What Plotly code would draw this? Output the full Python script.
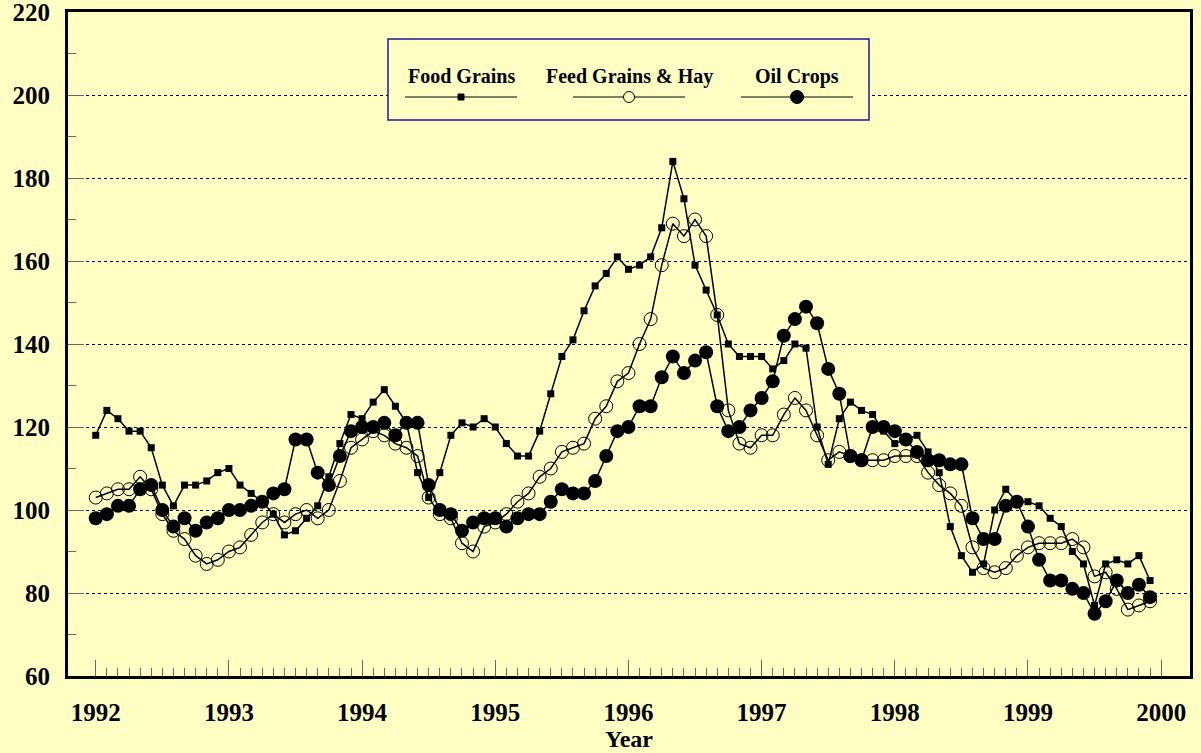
"""
Monthly price index chart: food grains, feed grains & hay, oil crops (1992-1999).
"""

import plotly.graph_objects as go

# Month index, 0 = Jan 1992 ... 95 = Dec 1999
months = list(range(96))

food_grains = [
    118, 124, 122, 119, 119, 115, 106, 101, 106, 106, 107, 109,
    110, 106, 104, 102, 99, 94, 95, 98, 101, 108, 116, 123,
    122, 126, 129, 125, 121, 109, 103, 109, 118, 121, 120, 122,
    120, 116, 113, 113, 119, 128, 137, 141, 148, 154, 157, 161,
    158, 159, 161, 168, 184, 175, 159, 153, 147, 140, 137, 137,
    137, 134, 136, 140, 139, 120, 111, 122, 126, 124, 123, 119,
    116, 117, 118, 114, 109, 96, 89, 85, 87, 100, 105, 102,
    102, 101, 98, 96, 90, 87, 77, 87, 88, 87, 89, 83,
]

feed_grains_hay = [
    103, 104, 105, 105, 108, 105, 99, 95, 93, 89, 87, 88,
    90, 91, 94, 97, 99, 97, 99, 100, 98, 100, 107, 115,
    117, 119, 118, 116, 115, 113, 103, 99, 98, 92, 90, 96,
    97, 99, 102, 104, 108, 110, 114, 115, 116, 122, 125, 131,
    133, 140, 146, 159, 169, 166, 170, 166, 147, 124, 116, 115,
    118, 118, 123, 127, 124, 118, 112, 114, 113, 112, 112, 112,
    113, 113, 113, 109, 106, 104, 101, 91, 86, 85, 86, 89,
    91, 92, 92, 92, 93, 91, 84, 85, 81, 76, 77, 78,
]

oil_crops = [
    98, 99, 101, 101, 105, 106, 100, 96, 98, 95, 97, 98,
    100, 100, 101, 102, 104, 105, 117, 117, 109, 106, 113, 119,
    120, 120, 121, 118, 121, 121, 106, 100, 99, 95, 97, 98,
    98, 96, 98, 99, 99, 102, 105, 104, 104, 107, 113, 119,
    120, 125, 125, 132, 137, 133, 136, 138, 125, 119, 120, 124,
    127, 131, 142, 146, 149, 145, 134, 128, 113, 112, 120, 120,
    119, 117, 114, 112, 112, 111, 111, 98, 93, 93, 101, 102,
    96, 88, 83, 83, 81, 80, 75, 78, 83, 80, 82, 79,
]

year_ticks = list(range(0, 97, 12))
year_labels = [str(1992 + k) for k in range(9)]
series_names = ["Food Grains", "Feed Grains & Hay", "Oil Crops"]

BG = "#FFFFC4"
FONT = "Liberation Serif"

# plot area in pixels (for placing the hand-made legend)
PL, PR, PT, PB = 68, 1190, 12, 676


def px_x(px):
    return (px - PL) / (PR - PL)


def px_y(py):
    return (PB - py) / (PB - PT)


fig = go.Figure()

fig.add_trace(
    go.Scatter(
        x=months, y=food_grains, mode="lines+markers", name=series_names[0],
        line=dict(color="black", width=1.5),
        marker=dict(symbol="square", size=7, color="black"),
    )
)
fig.add_trace(
    go.Scatter(
        x=months, y=feed_grains_hay, mode="lines+markers", name=series_names[1],
        line=dict(color="black", width=1.5),
        marker=dict(symbol="circle-open", size=13, color="black", line=dict(width=1)),
    )
)
fig.add_trace(
    go.Scatter(
        x=months, y=oil_crops, mode="lines+markers", name=series_names[2],
        line=dict(color="black", width=1.5),
        marker=dict(symbol="circle", size=14, color="black"),
    )
)

# Custom legend: boxed, label above the line sample
shapes = [
    dict(
        type="rect", xref="paper", yref="paper",
        x0=px_x(388), x1=px_x(869), y0=px_y(120), y1=px_y(39),
        line=dict(color="#1a1a8c", width=1.5), fillcolor=BG, layer="above",
    )
]
annotations = []
legend_centers = [461, 629, 797]
for k, cx in enumerate(legend_centers):
    shapes.append(
        dict(
            type="line", xref="paper", yref="paper",
            x0=px_x(cx - 56), x1=px_x(cx + 56), y0=px_y(97), y1=px_y(97),
            line=dict(color="black", width=1), layer="above",
        )
    )
    annotations.append(
        dict(
            x=px_x(cx), y=px_y(63), xref="paper", yref="paper",
            text=f"<b>{series_names[k]}</b>", showarrow=False,
            font=dict(family=FONT, size=20, color="black"),
        )
    )

marker_shapes = [("rect", 6, "black", "black"), ("circle", 11, BG, "black"), ("circle", 13, "black", "black")]
for (kind, sz, fill, edge), cx in zip(marker_shapes, legend_centers):
    shapes.append(
        dict(
            type=kind, xref="paper", yref="paper",
            xsizemode="pixel", ysizemode="pixel",
            xanchor=px_x(cx), yanchor=px_y(97),
            x0=-sz / 2, x1=sz / 2, y0=-sz / 2, y1=sz / 2,
            fillcolor=fill, line=dict(color=edge, width=1), layer="above",
        )
    )

tick_font = dict(family=FONT, size=25, color="black", weight="bold")

fig.update_layout(
    width=1201,
    height=753,
    paper_bgcolor=BG,
    plot_bgcolor=BG,
    showlegend=False,
    margin=dict(l=PL, r=1201 - PR, t=PT, b=753 - PB),
    shapes=shapes,
    annotations=annotations,
    xaxis=dict(
        range=[-2.5, 98.6], automargin=False, ticklabeloverflow="allow",
        tickmode="array", tickvals=year_ticks, ticktext=year_labels,
        ticks="inside", ticklen=16, tickcolor="#666", tickwidth=1,
        minor=dict(tickvals=months + [96], ticks="inside", ticklen=8, tickcolor="#666", tickwidth=1),
        showgrid=False, zeroline=False,
        showline=True, linecolor="black", linewidth=3, mirror=True,
        tickfont=tick_font, ticklabelstandoff=12,
        title=dict(text="<b>Year</b>", font=dict(family=FONT, size=24, color="black"), standoff=6),
    ),
    yaxis=dict(
        range=[60, 220], tick0=60, dtick=20, automargin=False, ticklabeloverflow="allow",
        ticks="inside", ticklen=16, tickcolor="#666", tickwidth=1,
        minor=dict(dtick=10, ticks="inside", ticklen=8, tickcolor="#666", tickwidth=1, showgrid=False),
        showgrid=True, gridcolor="black", griddash="dot", gridwidth=1,
        zeroline=False,
        showline=True, linecolor="black", linewidth=3, mirror=True,
        tickfont=tick_font, ticklabelstandoff=10,
    ),
)

# drop the browser's default page margin so the figure sits at the window corner
fig.write_html(
    "out.html",
    config={"displayModeBar": False},
    post_script="document.body.style.margin='0';document.body.style.background='%s';" % BG,
)
